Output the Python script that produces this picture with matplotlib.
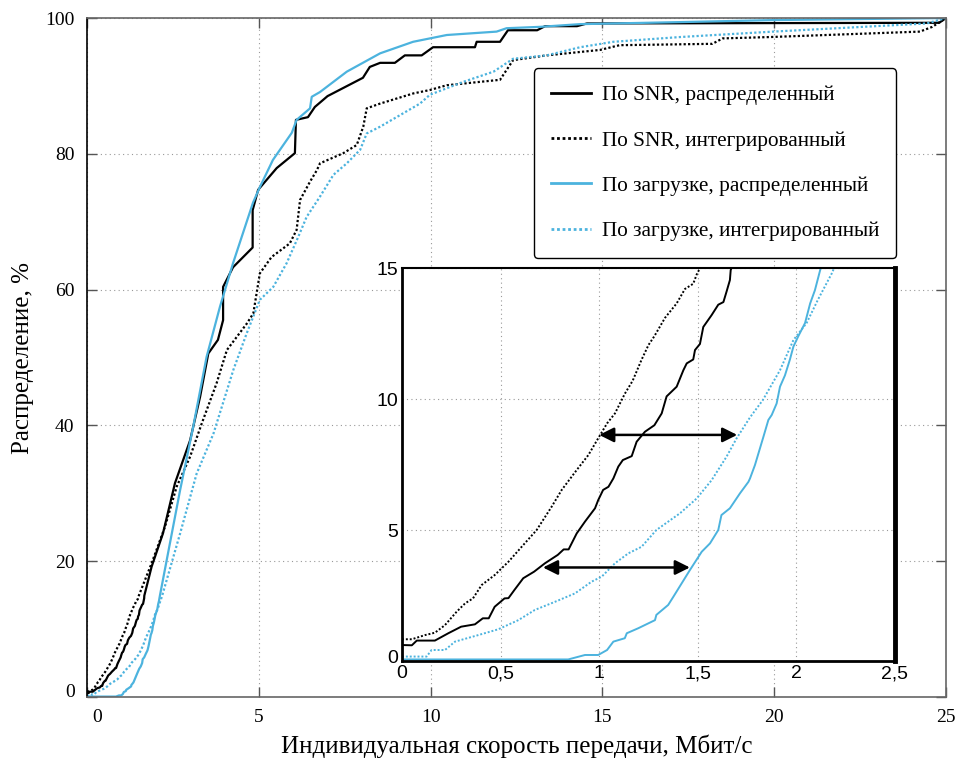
import matplotlib
matplotlib.use("Agg")
import matplotlib.pyplot as plt
import matplotlib.transforms as mtransforms

# CDF curves, x in Mbit/s, y in %
snr_dist_x = [0, 0.05, 0.075, 0.167, 0.235, 0.30, 0.37, 0.41, 0.44, 0.47, 0.52, 0.54, 0.57, 0.615,
              0.67, 0.725, 0.79, 0.82, 0.845, 0.886, 0.928, 0.979, 0.995, 1.02, 1.047, 1.072, 1.097,
              1.12, 1.165, 1.19, 1.232, 1.28, 1.317, 1.342, 1.393, 1.427, 1.444, 1.477, 1.486, 1.511,
              1.528, 1.57, 1.604, 1.63, 1.646, 1.663, 1.667, 1.88, 2.21, 2.56, 3.0, 3.29, 3.53, 3.81,
              3.96, 3.96, 4.25, 4.82, 4.82, 4.98, 5.52, 6.05, 6.08, 6.43, 6.63, 7.0, 8.03, 8.23, 8.53,
              8.96, 9.25, 9.74, 10.07, 11.29, 11.34, 12.02, 12.25, 13.1, 13.33, 14.26, 14.55, 24.8, 25]
snr_dist_y = [0.61, 0.6, 0.78, 0.78, 1.06, 1.31, 1.40, 1.63, 1.63, 2.07, 2.39, 2.4, 2.71, 3.16,
              3.41, 3.73, 4.05, 4.26, 4.26, 4.87, 5.32, 5.83, 6.14, 6.53, 6.65, 6.97, 7.42,
              7.67, 7.82, 8.37, 8.75, 9.0, 9.45, 10.1, 10.47, 11.1, 11.36, 11.51, 11.87, 12.1,
              12.75, 13.2, 13.6, 13.7, 14.1, 14.54, 14.92, 19.2, 24.1, 31.5, 37.8, 44.2, 50.6, 52.6,
              55.5, 60.4, 63.3, 66.2, 71.7, 74.7, 77.9, 80.1, 85.0, 85.4, 86.9, 88.5, 91.2, 92.8, 93.4,
              93.4, 94.5, 94.5, 95.7, 95.7, 96.5, 96.5, 98.2, 98.2, 98.8, 98.8, 99.2, 99.3, 100]

snr_int_x = [0, 0.05, 0.117, 0.167, 0.218, 0.277, 0.32, 0.36, 0.404, 0.47, 0.54, 0.607, 0.683,
             0.759, 0.81, 0.886, 0.945, 0.995, 1.04, 1.08, 1.13, 1.17, 1.215, 1.25, 1.28, 1.334,
             1.393, 1.435, 1.477, 1.497, 1.88, 2.27, 2.61, 3.0, 3.34, 3.77, 4.07, 4.65, 4.84, 5.03,
             5.37, 5.9, 6.1, 6.2, 6.49, 6.69, 6.78, 7.46, 7.85, 8.04, 8.14, 8.53, 9.5, 9.98, 10.47,
             12.02, 12.4, 13.38, 14.93, 15.5, 18.2, 18.5, 19.88, 24.24, 24.6, 25]
snr_int_y = [0.83, 0.83, 0.99, 1.08, 1.37, 1.88, 2.2, 2.39, 2.9, 3.28, 3.79, 4.36, 5.0,
             5.89, 6.53, 7.29, 7.86, 8.5, 9.07, 9.45, 10.2, 10.7, 11.5, 12.06, 12.4, 13.1,
             13.65, 14.2, 14.4, 14.8, 19.7, 25.1, 31.0, 35.4, 40.3, 46.2, 51.1, 55.0, 56.5, 62.4,
             64.8, 66.8, 68.8, 73.2, 75.9, 77.6, 78.6, 80.1, 81.3, 84.0, 86.7, 87.4, 88.9, 89.4, 90.1,
             90.9, 93.8, 94.5, 95.3, 96.0, 96.2, 97.0, 97.2, 98.0, 98.7, 100]

load_dist_x = [0, 0.843, 0.928, 0.995, 1.04, 1.072, 1.13, 1.14, 1.198, 1.283, 1.29, 1.35, 1.376,
               1.46, 1.52, 1.562, 1.604, 1.62, 1.663, 1.714, 1.757, 1.765, 1.79, 1.833, 1.858, 1.875,
               1.9, 1.917, 1.942, 1.967, 1.985, 2.01, 2.044, 2.07, 2.094, 2.12, 2.71, 3.09, 3.48,
               3.87, 4.25, 4.83, 5.03, 5.41, 5.96, 6.1, 6.49, 6.54, 6.78, 7.56, 8.53, 9.49, 10.47,
               11.92, 12.21, 13.18, 14.35, 17.26, 20.0, 25]
load_dist_y = [0.06, 0.06, 0.23, 0.23, 0.42, 0.74, 0.87, 1.06, 1.25, 1.56, 1.76, 2.14, 2.45,
               3.47, 4.17, 4.49, 5.0, 5.57, 5.83, 6.4, 6.84, 6.97, 7.48, 8.56, 9.2, 9.39,
               9.83, 10.47, 10.9, 11.5, 12.0, 12.4, 12.9, 13.65, 14.15, 14.9, 30.5, 39.8, 50.1,
               57.5, 63.9, 72.8, 75.1, 79.1, 83.1, 85.0, 86.7, 88.4, 89.1, 92.1, 94.8, 96.5, 97.5,
               98.0, 98.5, 98.7, 99.1, 99.4, 99.7, 100]

load_int_x = [0, 0.125, 0.15, 0.218, 0.269, 0.387, 0.488, 0.59, 0.674, 0.776, 0.877, 0.962, 1.013,
              1.08, 1.148, 1.215, 1.29, 1.41, 1.494, 1.57, 1.646, 1.697, 1.765, 1.83, 1.917, 1.985,
              2.052, 2.11, 2.18, 2.71, 3.19, 3.68, 4.26, 4.65, 5.03, 5.42, 5.81, 6.15, 6.39, 6.78,
              7.17, 7.56, 7.95, 8.14, 8.53, 9.11, 9.69, 9.98, 10.95, 11.83, 12.4, 13.38, 14.35,
              15.32, 17.26, 19.97, 24.44, 25]
load_int_y = [0.17, 0.17, 0.42, 0.42, 0.74, 0.99, 1.21, 1.56, 1.95, 2.26, 2.58, 3.03, 3.22,
              3.73, 4.11, 4.36, 5.0, 5.64, 6.2, 6.9, 7.8, 8.5, 9.3, 9.96, 11.1, 12.25,
              12.9, 13.8, 14.8, 24.1, 32.9, 38.8, 48.2, 53.6, 58.5, 60.4, 63.9, 67.8, 70.7, 73.7,
              76.9, 78.6, 80.6, 83.0, 84.0, 85.7, 87.4, 88.7, 90.6, 92.1, 94.0, 94.5, 95.7,
              96.5, 97.2, 98.0, 99.2, 100]

labels = ["По SNR, распределенный", "По SNR, интегрированный",
          "По загрузке, распределенный", "По загрузке, интегрированный"]

main_xticks = [0, 5, 10, 15, 20, 25]
main_yticks = [0, 20, 40, 60, 80, 100]
inset_xticks = [0, 0.5, 1, 1.5, 2, 2.5]
inset_xticklabels = ["0", "0,5", "1", "1,5", "2", "2,5"]
inset_yticks = [0, 5, 10, 15]

# gap arrows in the zoomed panel: (x_from, x_to, y)
gaps = [(1.0, 1.70, 8.63), (0.715, 1.46, 3.57)]

BLUE = "#4cb3de"
SERIF = "Liberation Serif"
SANS = ["Liberation Sans Narrow", "Liberation Sans", "DejaVu Sans"]
DOT = (0, (1, 1))
GRID = dict(color="#999999", linestyle=(0, (1, 3)), linewidth=0.8)


def draw_curves(ax, lw):
    ax.plot(snr_dist_x, snr_dist_y, color="black", lw=lw, label=labels[0])
    ax.plot(snr_int_x, snr_int_y, color="black", lw=lw, ls=DOT, label=labels[1])
    ax.plot(load_dist_x, load_dist_y, color=BLUE, lw=lw, label=labels[2])
    ax.plot(load_int_x, load_int_y, color=BLUE, lw=lw, ls=DOT, label=labels[3])


def shift(label, dx_px, dy_px):
    off = mtransforms.ScaledTranslation(dx_px / 100, dy_px / 100, fig.dpi_scale_trans)
    label.set_transform(label.get_transform() + off)


fig = plt.figure(figsize=(9.67, 7.64), dpi=100)
ax = fig.add_axes([0.090, 0.0877, 0.8883, 0.8887])
draw_curves(ax, 1.6)
ax.set_xlim(0, 25)
ax.set_ylim(0, 100)
ax.set_xticks(main_xticks)
ax.set_yticks(main_yticks)
ax.grid(True, **GRID)
ax.tick_params(direction="in", length=7, width=1, top=True, right=True,
               labelsize=14, color="#555555")
ax.tick_params(axis="x", pad=9)
ax.tick_params(axis="y", pad=9)
for lab in ax.get_xticklabels() + ax.get_yticklabels():
    lab.set_family(SERIF)
# first x label sits a little right of the spine, first y label a little up
shift(ax.get_xticklabels()[0], 10, 0)
shift(ax.get_yticklabels()[0], 0, 6)
for side in ("top", "right", "bottom"):
    ax.spines[side].set_color("#666666")
ax.spines["left"].set_color("black")
for s in ax.spines.values():
    s.set_linewidth(1.2)

ax.set_xlabel("Индивидуальная скорость передачи, Мбит/с", family=SERIF, fontsize=18, labelpad=6)
ax.set_ylabel("Распределение, %", family=SERIF, fontsize=18, labelpad=8)

leg = ax.legend(loc="upper right", bbox_to_anchor=(0.942, 0.926), borderaxespad=0,
                prop={"family": SERIF, "size": 15.3}, labelspacing=1.2, handlelength=1.9,
                handletextpad=0.5, borderpad=0.8, fancybox=True, framealpha=1,
                edgecolor="black")
leg.get_frame().set_linewidth(1.0)
for h in leg.get_lines():
    h.set_linewidth(2.0)

# zoomed panel of the lower-left corner
ins = fig.add_axes([0.4157, 0.1348, 0.5098, 0.5144])
draw_curves(ins, 1.4)
ins.set_xlim(0, 2.5)
ins.set_ylim(0, 15)
ins.set_xticks(inset_xticks)
ins.set_xticklabels(inset_xticklabels)
ins.set_yticks(inset_yticks)
ins.grid(True, **GRID)
ins.tick_params(length=0, labelsize=14)
ins.tick_params(axis="x", pad=3)
ins.tick_params(axis="y", pad=3)
for lab in ins.get_xticklabels() + ins.get_yticklabels():
    lab.set_family(SANS)
shift(ins.get_yticklabels()[0], 0, 5)
for side, w in (("left", 2), ("top", 1.5), ("bottom", 2), ("right", 3.5)):
    ins.spines[side].set_linewidth(w)
    ins.spines[side].set_color("black")

for x0, x1, y in gaps:
    ins.annotate("", xy=(x1, y), xytext=(x0, y),
                 arrowprops=dict(arrowstyle="<|-|>", color="black", lw=1.8,
                                 mutation_scale=22, shrinkA=0, shrinkB=0))

fig.savefig("out.png", dpi=100)
